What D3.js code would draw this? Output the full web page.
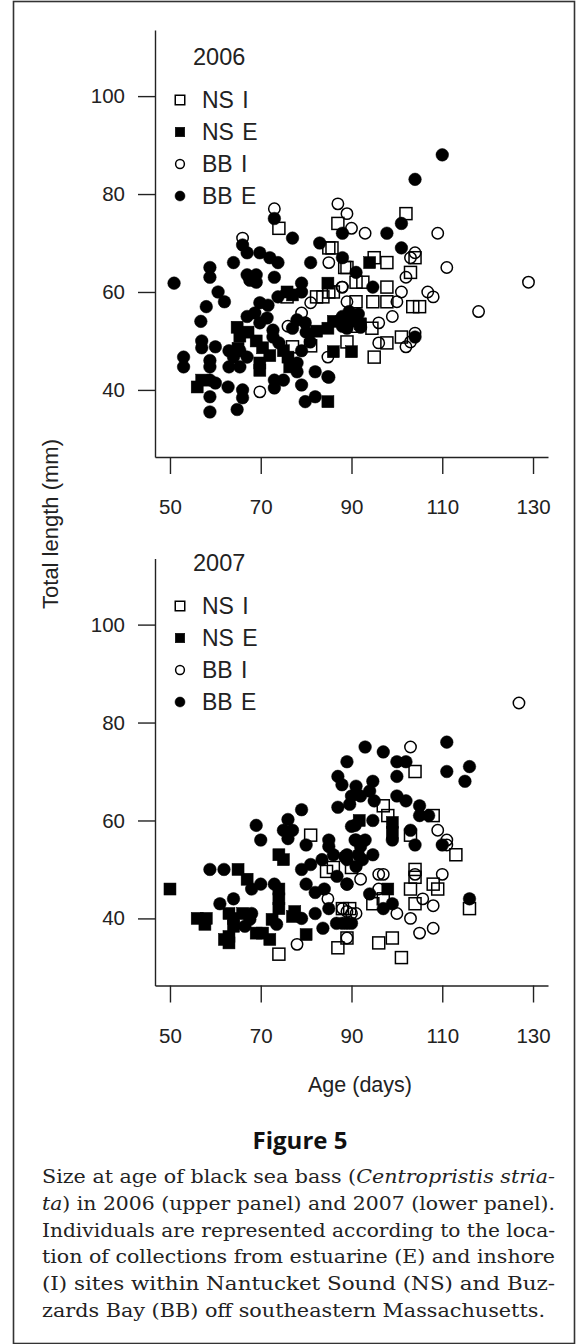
<!DOCTYPE html>
<html>
<head>
<meta charset="utf-8">
<script src="https://cdn.jsdelivr.net/npm/d3@7"></script>
<style>
  body { margin: 0; background: #fff; }
  svg { display: block; }
  .axis path, .axis line { stroke: #222; stroke-width: 1.4; }
  .axis text { font-family: "Liberation Sans", Arial, sans-serif; font-size: 20.5px; fill: #222; }
</style>
</head>
<body>
<div id="chart"></div>
<script>
// Data: [age (days), total length (mm)]
var years = ["2006", "2007"];
var seriesNames = ["NS I", "NS E", "BB I", "BB E"];
var xTicks = [50, 70, 90, 110, 130];
var yTicks = [40, 60, 80, 100];

// 2006
var nsI2006 = [[74,73],[85,69],[82.3,59],[83.7,59],[75.8,59],[87,74],[102,76],[104,67],[85.7,69],[95,67],
  [97.8,66],[89,65],[103,64],[91,62],[92.5,62],[97.8,61],[85,60],[86,60],[91,58],[94.7,58],[97.8,58],
  [103.5,57],[105,57],[94.5,52.6],[91,53],[97.8,49.6],[101,50.8],[89,49.8],[95,46.7],[81,49],[88.5,65],
  [77,48.8]];
var nsE2006 = [[56,40.6],[57,42],[64.8,52.8],[65.4,51],[67.2,51.8],[69,50],[70.4,48.6],[72,47],[69.8,45.5],
  [69.8,44],[75,48],[76,46.7],[76.4,44.7],[84.8,37.6],[82.3,52],[84.8,52.6],[75.8,60],[77,59.4],[84.8,61.8],
  [94,66],[86,47.8],[90,47.8],[86,54],[92,53.5],[65,48.5]];
var bbI2006 = [[73,77],[66,71],[85,66],[88,61],[79,55.7],[81,57.8],[76,53],[84.8,46.7],[69.8,39.6],
  [87,78],[89,76],[90,73],[93,72],[109,72],[104,68],[103,67],[111,65],[102,63],[87.9,61],[101,60],
  [106.8,60],[108,59],[89,58],[100,58],[118,56],[129,62],[99,55],[96,53.7],[96,49.6],[104,51.6],
  [103,49.8],[102,48.8]];
var bbE2006 = [[50.9,61.8],[73,75],[77,71],[66,69.6],[67,68],[64,66],[69.8,68],[72,67],[73.8,66],[58.8,65],
  [58.8,63],[67,63.5],[69,63.5],[67.6,62.4],[69,62],[73,63],[81,66],[83,70],[88,67],[60.6,60],[62,58],
  [58,57],[56.8,54],[57,50],[57,48.6],[60,48.8],[53,46.7],[53,44.7],[58.8,42],[58.8,38.6],[58.8,35.5],
  [60,41.4],[62.8,40.6],[58.8,46],[58.8,44.7],[64.8,36],[66,38.4],[66,40],[63,48],[64,46.7],[63,44.7],
  [65.4,44.7],[67,55],[68.7,55.7],[69.8,57.8],[71.6,57.3],[69.8,53.7],[71.4,54.7],[72.7,52.2],[72.7,50.8],
  [74,49.6],[65.4,48],[67,46.7],[78,45.5],[78,43.7],[79,41],[73,42],[75,42],[73,40.4],[79.8,37.6],
  [82,38.6],[82,43.7],[84.8,42.7],[79,48],[80.9,49.8],[80,51.8],[77,52.6],[78,54.3],[79.8,53.7],
  [87.5,54.3],[73.8,59],[79,60],[79,61.8],[88,55],[89,52.6],[110,88],[104,83],[101,74],[97.8,72],[88,72],
  [101,69],[91,64],[94.7,61],[104,50.8],[85,42.6],[88,53],[90,54],[91.5,55.5],[92,52.8],[89.5,56]];

// 2007
var nsI2007 = [[81,57],[84.5,49.6],[86,50.4],[90,50.4],[87,34],[89,36],[74,32.7],[104,70],[97,63],[98,61],
  [108,61],[103,57],[113,53],[104,50],[104,48.4],[108,47],[109,46],[103,46],[94.7,43],[97,44],[104,43],
  [116,42],[96,35],[99,36],[101,32],[89.6,42],[88,42]];
var nsE2007 = [[50,46],[65,50],[67,48],[74,46],[74,44],[74,42],[74,53],[75,52],[80,36.7],[77.5,41.4],
  [77,40.4],[72.5,39.8],[72,35.7],[69,37],[70.4,37],[63,36.3],[63,35],[62,35.7],[56,40],[58,40],
  [57.7,38.8],[63,41],[64,40],[64,38.4],[66,41],[99,59.6],[99,57.5],[91.7,60],[98,46]];
var bbI2007 = [[84.8,44],[88,42],[90,41],[78,34.7],[126.9,84],[103,75],[92,48],[96,49],[97,49],[104,49],
  [110,49],[96,46],[100,41],[103,40],[105.7,44],[108,42.6],[105,37],[108,38],[91,41],[89,41.4],[89,36],
  [109,58],[111,56],[111,55]];
var bbE2007 = [[89,72],[87,69],[87.9,67.3],[89.6,63.3],[87,62.7],[79,62.2],[76,60.2],[69,59],[75,58],[77,58],
  [70,56],[76,56.3],[80,55],[85,56],[85,54.7],[90,58.8],[90.8,56],[58.8,50],[61.9,50],[70,47],[68,46],
  [73,47],[79,50],[81,51],[83.5,52],[86,53],[88.5,52.6],[86.8,48.6],[89,47],[80,47],[82,45.3],[84,46],
  [85,42],[82,41],[83.7,38],[86.7,39],[89,39],[79,40],[73.5,38.8],[68,41],[67.6,39.8],[66.5,38.4],[61,43],
  [64,44],[111,76],[93,75],[97,74],[100,72],[102,72],[100,69],[111,70],[116,71],[115,68],[91,67],[90,65],
  [92,65],[94.7,68],[94,66],[95,64],[100,65],[102,64],[105,63],[105,61],[107,61],[90.8,59],[94.7,60],
  [99,56],[103,58],[104,55],[110,55],[91,56],[93,56],[92,54.7],[89,53],[89,52],[91.5,53],[92.4,52],
  [94.7,53],[91,50.6],[89,47],[94,45],[97,42],[99,43],[116,44],[90,39],[88,39]];

var panelData = [
  [nsI2006, nsE2006, bbI2006, bbE2006],
  [nsI2007, nsE2007, bbI2007, bbE2007]
];

var captionLines = [
  [["Size at age of black sea bass (", false], ["Centropristis stria-", true]],
  [["ta", true], [") in 2006 (upper panel) and 2007 (lower panel).", false]],
  [["Individuals are represented according to the loca-", false]],
  [["tion of collections from estuarine (E) and inshore", false]],
  [["(I) sites within Nantucket Sound (NS) and Buz-", false]],
  [["zards Bay (BB) off southeastern Massachusetts.", false]]
];

// Setup
var width = 587, height = 1344;
var panelTop = [0, 528.5],
    legendTitleY = [57, 34.5],
    legendItemY = [100, 77.5];

var svg = d3.select("#chart").append("svg")
    .attr("width", width)
    .attr("height", height);

// outer frame
svg.append("rect")
    .attr("x", 13.5).attr("y", 1.5)
    .attr("width", 561).attr("height", 1342)
    .attr("fill", "none")
    .attr("stroke", "#333")
    .attr("stroke-width", 1.6);

// Scales (axis lines run a little past the first / last tick)
var x = d3.scaleLinear().domain([46.7, 133.3]).range([155, 548]);
var y = d3.scaleLinear().domain([26.3, 113.5]).range([457, 30]);

var xAxis = d3.axisBottom(x).tickValues(xTicks).tickSize(17).tickSizeOuter(0);
var yAxis = d3.axisLeft(y).tickValues(yTicks).tickSize(17).tickSizeOuter(0).tickPadding(13);

function marker(g, type, size) {
  // type: 0 open square, 1 filled square, 2 open circle, 3 filled circle
  if (type < 2) {
    g.append("rect")
        .attr("x", -size / 2).attr("y", -size / 2)
        .attr("width", size).attr("height", size)
        .attr("fill", type === 1 ? "#000" : "none")
        .attr("stroke", "#000")
        .attr("stroke-width", type === 1 ? 0.5 : 1.5);
  } else {
    g.append("circle")
        .attr("r", type === 3 ? size / 2 : size / 2 - 0.6)
        .attr("fill", type === 3 ? "#000" : "none")
        .attr("stroke", "#000")
        .attr("stroke-width", type === 3 ? 0.5 : 1.5);
  }
}

years.forEach(function(yr, p) {
  var g = svg.append("g").attr("transform", "translate(0," + panelTop[p] + ")");

  g.append("g").attr("class", "axis")
      .attr("transform", "translate(155,0)")
      .call(yAxis);

  g.append("g").attr("class", "axis")
      .attr("transform", "translate(0,457)")
      .call(xAxis)
    .selectAll("text")
      .attr("y", 50)
      .attr("dy", "0.35em");

  g.selectAll(".domain").attr("stroke-width", 1.6);

  // points
  panelData[p].forEach(function(pts, s) {
    g.append("g").selectAll("g.pt")
        .data(pts).enter().append("g")
        .attr("class", "pt")
        .attr("transform", function(d) {
          return "translate(" + x(d[0]) + "," + y(d[1]) + ")";
        })
        .each(function() { marker(d3.select(this), s, s < 2 ? 12 : 12.6); });
  });

  // legend
  g.append("text")
      .attr("x", 193).attr("y", legendTitleY[p])
      .attr("dy", "0.35em")
      .style("font-family", "'Liberation Sans', Arial, sans-serif")
      .style("font-size", "23.5px")
      .attr("fill", "#222")
      .text(yr);

  seriesNames.forEach(function(name, s) {
    var ly = legendItemY[p] + s * 32;
    var lg = g.append("g").attr("transform", "translate(180," + ly + ")");
    marker(lg, s, s < 2 ? 9.5 : 10);
    g.append("text")
        .attr("x", 202).attr("y", ly)
        .attr("dy", "0.35em")
        .style("font-family", "'Liberation Sans', Arial, sans-serif")
        .style("font-size", "23px")
        .style("word-spacing", "2px")
        .attr("fill", "#222")
        .text(name);
  });
});

// axis titles
svg.append("text")
    .attr("transform", "translate(58,524) rotate(-90)")
    .attr("text-anchor", "middle")
    .style("font-family", "'Liberation Sans', Arial, sans-serif")
    .style("font-size", "22px")
    .attr("fill", "#222")
    .text("Total length (mm)");

svg.append("text")
    .attr("x", 360).attr("y", 1092)
    .attr("text-anchor", "middle")
    .style("font-family", "'Liberation Sans', Arial, sans-serif")
    .style("font-size", "21.5px")
    .attr("fill", "#222")
    .text("Age (days)");

// caption
svg.append("text")
    .attr("x", 300).attr("y", 1149)
    .attr("text-anchor", "middle")
    .style("font-family", "'Open Sans', 'Noto Sans', sans-serif")
    .style("font-weight", "bold")
    .style("font-size", "24px")
    .attr("fill", "#111")
    .text("Figure 5");

captionLines.forEach(function(line, i) {
  var t = svg.append("text")
      .attr("x", 42).attr("y", 1183 + i * 26.8)
      .style("font-family", "'DejaVu Serif', serif")
      .style("font-size", "19px")
      .attr("fill", "#222")
      .attr("textLength", i < 5 ? 513 : 503)
      .attr("lengthAdjust", "spacingAndGlyphs");
  line.forEach(function(part) {
    t.append("tspan")
        .style("font-style", part[1] ? "italic" : "normal")
        .text(part[0]);
  });
});
</script>
</body>
</html>
